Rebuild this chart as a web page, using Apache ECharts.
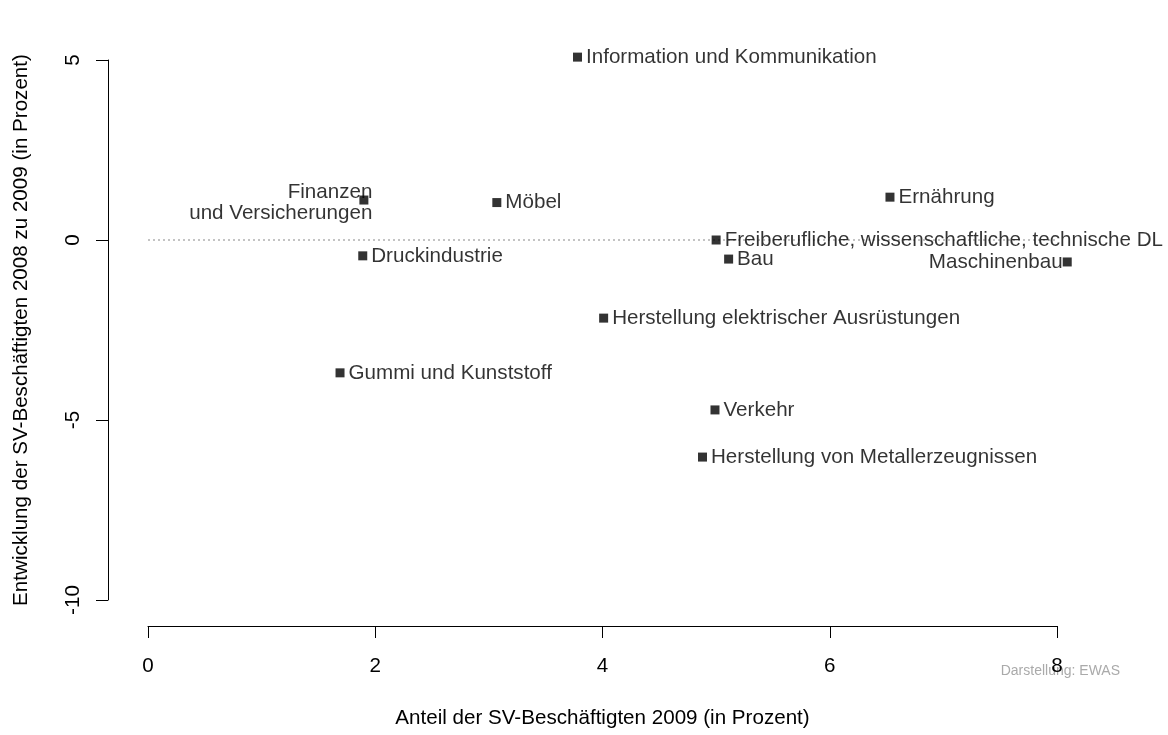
<!DOCTYPE html>
<html>
<head>
<meta charset="utf-8">
<script src="https://cdn.jsdelivr.net/npm/echarts@6/dist/echarts.min.js"></script>
<style>html,body{margin:0;padding:0;background:#fff}#c{width:1168px;height:735px}</style>
</head>
<body>
<div id="c"></div>
<script>
const branches = [
  'Information und Kommunikation',
  'Finanzen\nund Versicherungen',
  'Möbel',
  'Druckindustrie',
  'Ernährung',
  'Freiberufliche, wissenschaftliche, technische DL',
  'Bau',
  'Maschinenbau',
  'Herstellung elektrischer Ausrüstungen',
  'Gummi und Kunststoff',
  'Verkehr',
  'Herstellung von Metallerzeugnissen'
];
const shareSV2009 = [3.78, 1.90, 3.07, 1.89, 6.53, 5.00, 5.11, 8.09, 4.01, 1.69, 4.99, 4.88];
const changeSV0809 = [5.08, 1.11, 1.04, -0.44, 1.19, 0.00, -0.53, -0.61, -2.17, -3.69, -4.72, -6.03];
const xTicks = [0, 2, 4, 6, 8];
const yTicks = [-10, -5, 0, 5];

const FONT = 'Liberation Sans, Arial, Helvetica, sans-serif';
const FS = 20.6;
const leftLabeled = {
  'Finanzen\nund Versicherungen': { distance: -13, lineHeight: 21 },
  'Maschinenbau': { distance: 0 }
};
const twoLineIdx = branches.indexOf('Finanzen\nund Versicherungen');

const points = branches.map((name, i) => {
  const item = { name: name, value: [shareSV2009[i], changeSV0809[i]] };
  if (leftLabeled[name]) {
    item.label = Object.assign({ position: 'left', align: 'right' }, leftLabeled[name]);
  }
  return item;
});

const chart = echarts.init(document.getElementById('c'), null, { renderer: 'canvas' });
chart.setOption({
  animation: false,
  backgroundColor: '#fff',
  grid: { left: 148, right: 111, top: 60, bottom: 135 },
  xAxis: {
    type: 'value', min: xTicks[0], max: xTicks[xTicks.length - 1], interval: 2,
    offset: 26,
    name: 'Anteil der SV-Beschäftigten 2009 (in Prozent)',
    nameLocation: 'middle', nameGap: 82,
    nameTextStyle: { fontFamily: FONT, fontSize: FS, color: '#000' },
    axisLine: { show: true, onZero: false, lineStyle: { color: '#000', width: 1 } },
    axisTick: { show: true, length: 12, lineStyle: { color: '#000' } },
    axisLabel: { fontFamily: FONT, fontSize: FS, color: '#000', margin: 30 },
    splitLine: { show: false }
  },
  yAxis: {
    type: 'value', min: yTicks[0], max: yTicks[yTicks.length - 1], interval: 5,
    offset: 40,
    name: 'Entwicklung der SV-Beschäftigten 2008 zu 2009 (in Prozent)',
    nameLocation: 'middle', nameGap: 76, nameRotate: 90,
    nameTextStyle: { fontFamily: FONT, fontSize: FS, color: '#000' },
    axisLine: { show: true, onZero: false, lineStyle: { color: '#000', width: 1 } },
    axisTick: { show: true, length: 12, lineStyle: { color: '#000' } },
    axisLabel: { fontFamily: FONT, fontSize: FS, color: '#000', margin: 24, rotate: 90 },
    splitLine: { show: false }
  },
  graphic: [{
    type: 'text', right: 48, top: 664,
    style: { text: 'Darstellung: EWAS', fontFamily: FONT, fontSize: 14, fill: '#aaaaaa' }
  }],
  series: [{
    type: 'line',
    data: [[0, 0], [Math.max(...shareSV2009), 0]],
    symbol: 'none', silent: true, clip: false,
    lineStyle: { type: [2, 3], color: '#888', width: 1 },
    z: 1
  }, {
    type: 'scatter',
    symbol: 'rect',
    symbolSize: 9,
    clip: false,
    itemStyle: { color: '#000' },
    data: points,
    label: {
      show: true, position: 'right', distance: 4,
      formatter: p => p.name,
      fontFamily: FONT, fontSize: FS, color: '#000', lineHeight: 22
    },
    labelLayout: p => (p.dataIndex === twoLineIdx ? { dy: 3, hideOverlap: false } : { hideOverlap: false }),
    z: 3
  }]
});
</script>
</body>
</html>
